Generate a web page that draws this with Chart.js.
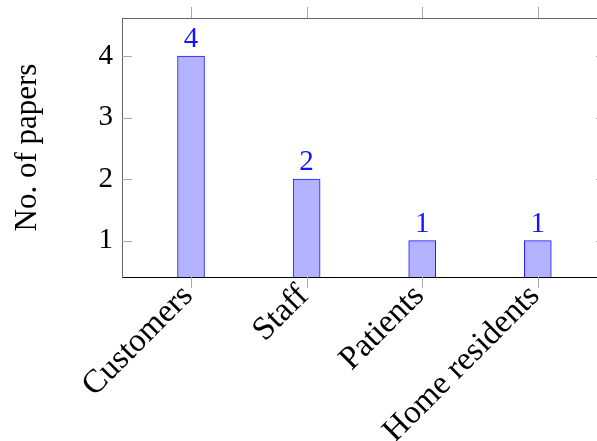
<!DOCTYPE html>
<html>
<head>
<meta charset="utf-8">
<script src="https://cdn.jsdelivr.net/npm/chart.js@4/dist/chart.umd.min.js"></script>
<style>
  html, body { margin: 0; padding: 0; background: #fff; }
  #wrap { width: 597px; height: 441px; overflow: hidden; }
  canvas { display: block; }
</style>
</head>
<body>
<div id="wrap"><canvas id="c" width="612" height="441"></canvas></div>
<script>
// Number of papers per user group
const categories = ['Customers', 'Staff', 'Patients', 'Home residents'];
const papers = [4, 2, 1, 1];
const yTickValues = [1, 2, 3, 4];

const SERIF = '"Liberation Serif", "Times New Roman", serif';
const TICK_GRAY = '#a8a8a8';

// Frame extras: top rule, tick marks on all four sides, and value labels over the bars
const framePlugin = {
  id: 'frame',
  afterDraw(chart) {
    const { ctx, chartArea: a, scales } = chart;
    const xs = scales.x, ys = scales.y;
    ctx.save();
    // top rule
    ctx.strokeStyle = '#666';
    ctx.lineWidth = 1;
    ctx.beginPath();
    ctx.moveTo(a.left, a.top + 0.5);
    ctx.lineTo(a.right, a.top + 0.5);
    ctx.stroke();
    // tick marks
    ctx.strokeStyle = TICK_GRAY;
    ctx.beginPath();
    categories.forEach((_, i) => {
      const px = Math.round(xs.getPixelForValue(i)) + 0.5;
      ctx.moveTo(px, a.bottom); ctx.lineTo(px, a.bottom + 11);
      ctx.moveTo(px, a.top); ctx.lineTo(px, a.top - 11);
    });
    yTickValues.forEach(v => {
      const py = Math.round(ys.getPixelForValue(v)) + 0.5;
      ctx.moveTo(a.left, py); ctx.lineTo(a.left + 10, py);
      ctx.moveTo(a.right, py); ctx.lineTo(a.right - 10, py);
    });
    ctx.stroke();
    ctx.restore();
  },
  afterDatasetsDraw(chart) {
    const { ctx } = chart;
    const meta = chart.getDatasetMeta(0);
    ctx.save();
    ctx.fillStyle = '#1414ff';
    ctx.font = '29px ' + SERIF;
    ctx.textAlign = 'center';
    ctx.textBaseline = 'alphabetic';
    meta.data.forEach((bar, i) => {
      ctx.fillText(String(papers[i]), bar.x, bar.y - 9);
    });
    ctx.restore();
  }
};

new Chart(document.getElementById('c'), {
  type: 'bar',
  data: {
    datasets: [{
      data: categories.map((_, i) => ({ x: i, y: papers[i] })),
      backgroundColor: '#b3b3ff',
      borderColor: '#1a1aff',
      borderWidth: 1,
      borderSkipped: false,
      barThickness: 27
    }]
  },
  options: {
    responsive: false,
    animation: false,
    devicePixelRatio: 1,
    layout: { padding: { top: 18, right: 6, left: 0, bottom: 0 } },
    plugins: { legend: { display: false }, tooltip: { enabled: false } },
    scales: {
      x: {
        type: 'linear',
        offset: false,
        min: -0.597,
        max: 3.59,
        afterBuildTicks: s => { s.ticks = categories.map((_, i) => ({ value: i })); },
        afterFit: s => { s.height = 164; s.paddingLeft = 0; s.paddingRight = 0; },
        grid: { display: false, drawTicks: false, offset: false },
        border: { display: true, color: '#000', width: 1 },
        ticks: {
          callback: v => categories[v],
          autoSkip: false,
          minRotation: 45,
          maxRotation: 45,
          padding: 0,
          labelOffset: -3,
          color: '#000',
          font: { family: SERIF, size: 33 }
        }
      },
      y: {
        min: 0.41,
        max: 4.62,
        afterBuildTicks: s => { s.ticks = yTickValues.map(v => ({ value: v })); },
        afterFit: s => { s.width = 122; s.paddingTop = 0; s.paddingBottom = 0; },
        grid: { display: false, drawTicks: false },
        border: { display: true, color: '#666', width: 1 },
        ticks: {
          padding: 9,
          color: '#000',
          font: { family: SERIF, size: 29 }
        },
        title: {
          display: true,
          text: 'No. of papers',
          color: '#000',
          font: { family: SERIF, size: 31 },
          padding: { top: 9, bottom: 0 }
        }
      }
    }
  },
  plugins: [framePlugin]
});
</script>
</body>
</html>
